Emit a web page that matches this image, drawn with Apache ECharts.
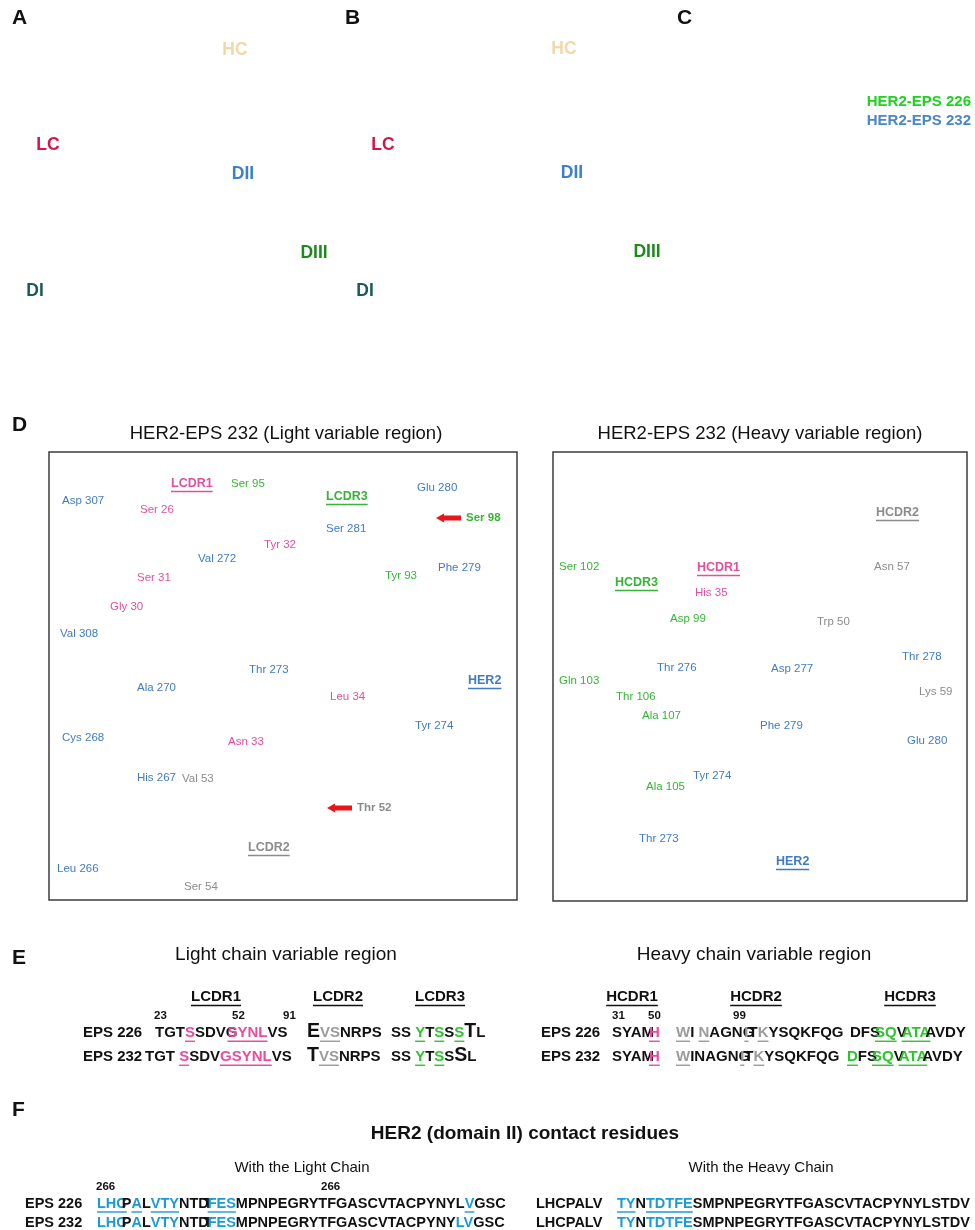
<!DOCTYPE html>
<html>
<head>
<meta charset="utf-8">
<title>HER2-EPS 226 / 232 contact residues</title>
<script src="https://cdn.jsdelivr.net/npm/echarts/dist/echarts.min.js"></script>
<style>
  html, body { margin: 0; padding: 0; background: #fff; }
  #chart { width: 975px; height: 1230px; }
</style>
</head>
<body>
<div id="chart"></div>
<script>
const FONT = '"Liberation Sans", Arial, Helvetica, sans-serif';

// A / B : domain labels on the two complex views
const domainNames = ['HC', 'LC', 'DII', 'DIII', 'DI'];
const domainAX = [235, 48, 243, 314, 35];
const domainAY = [50, 145, 174, 253, 291];
const domainBX = [564, 383, 572, 647, 365];
const domainBY = [49, 145, 173, 252, 291];

// C : superposition legend
const complexNames = ['HER2-EPS 226', 'HER2-EPS 232'];
const complexX = [971, 971];
const complexY = [102, 121];

// D : 2D interaction map, light chain (region: her2 / cdr1 / cdr2 / cdr3)
const lightNames = ['LCDR1', 'Ser 95', 'LCDR3', 'Glu 280', 'Asp 307', 'Ser 26', 'Ser 98', 'Ser 281',
  'Tyr 32', 'Val 272', 'Phe 279', 'Tyr 93', 'Ser 31', 'Gly 30', 'Val 308', 'Thr 273', 'HER2',
  'Ala 270', 'Leu 34', 'Tyr 274', 'Cys 268', 'Asn 33', 'His 267', 'Val 53', 'Thr 52', 'LCDR2',
  'Leu 266', 'Ser 54'];
const lightRegion = ['cdr1', 'cdr3', 'cdr3', 'her2', 'her2', 'cdr1', 'cdr3', 'her2',
  'cdr1', 'her2', 'her2', 'cdr3', 'cdr1', 'cdr1', 'her2', 'her2', 'her2',
  'her2', 'cdr1', 'her2', 'her2', 'cdr1', 'her2', 'cdr2', 'cdr2', 'cdr2',
  'her2', 'cdr2'];
const lightX = [171, 231, 326, 417, 62, 140, 466, 326, 264, 198, 438, 385, 137, 110, 60, 249, 468,
  137, 330, 415, 62, 228, 137, 182, 357, 248, 57, 184];
const lightY = [484, 484, 497, 488, 501, 510, 518, 529, 545, 559, 568, 576, 578, 607, 634, 670, 681,
  688, 697, 726, 738, 742, 778, 779, 808, 848, 869, 887];

// D : heavy chain
const heavyNames = ['HCDR2', 'Ser 102', 'HCDR1', 'Asn 57', 'HCDR3', 'His 35', 'Asp 99', 'Trp 50',
  'Thr 278', 'Thr 276', 'Asp 277', 'Gln 103', 'Lys 59', 'Thr 106', 'Ala 107', 'Phe 279', 'Glu 280',
  'Tyr 274', 'Ala 105', 'Thr 273', 'HER2'];
const heavyRegion = ['cdr2', 'cdr3', 'cdr1', 'cdr2', 'cdr3', 'cdr1', 'cdr3', 'cdr2',
  'her2', 'her2', 'her2', 'cdr3', 'cdr2', 'cdr3', 'cdr3', 'her2', 'her2',
  'her2', 'cdr3', 'her2', 'her2'];
const heavyX = [876, 559, 697, 874, 615, 695, 670, 817, 902, 657, 771, 559, 919, 616, 642, 760, 907,
  693, 646, 639, 776];
const heavyY = [513, 567, 568, 567, 583, 593, 619, 622, 657, 668, 669, 681, 692, 697, 716, 726, 741,
  776, 787, 839, 862];

const arrowed = ['Ser 98', 'Thr 52'];

// E : CDR alignment
const cdrNames = ['LCDR1', 'LCDR2', 'LCDR3', 'HCDR1', 'HCDR2', 'HCDR3'];
const cdrX = [216, 338, 440, 632, 756, 910];
const cdrY = [997, 997, 997, 997, 997, 997];

const posNums = ['23', '52', '91', '31', '50', '99', '266', '266'];
const posX = [154, 232, 283, 612, 648, 733, 96, 321];
const posY = [1016, 1016, 1016, 1016, 1016, 1016, 1187, 1187];

// [p:..] pink, [g:..] grey, [n:..] green, [b:..] blue = contact residue; {..} enlarged; ~ overlap
const cdrSeq = [
  'EPS 226', 'TGT[p:S]SDVG~~[p:SYNL]VS', '{E}[g:VS]NRPS', 'SS [n:Y]T[n:S]S[n:S]{T}L',
  'EPS 232', 'TGT [p:S]SDV[p:GSYNL]VS', '{T}[g:VS]NRPS', 'SS [n:Y]T[n:S]S{S}L',
  'EPS 226', 'SYAM~[p:H]', '[g:W]I [g:N]AGNG~~[g:I]T[g:K]YSQKFQG', 'DFS~[n:SQ]V~[n:ATA]~AVDY',
  'EPS 232', 'SYAM~[p:H]', '[g:W]INAGNG~~[g:I]T[g:K]YSQKFQG', '[n:D]FS~[n:SQ]V~[n:ATA]~AVDY'
];
const cdrSeqX = [83, 155, 307, 391, 83, 145, 307, 391, 541, 612, 676, 850, 541, 612, 676, 847];
const cdrSeqY = [1033, 1033, 1033, 1033, 1057, 1057, 1057, 1057, 1033, 1033, 1033, 1033, 1057, 1057, 1057, 1057];

// F : HER2 domain II contact residues
const her2Seq = [
  'EPS 226', '[b:LHC]~P[b:A]L[b:VTY]NTD~T~[b:FES]MPNPEGRYTFGASCVTACPYNYL[b:V]GSC',
  'LHCPALV', '[b:TY]N[b:TDTFE]SMPNPEGRYTFGASCVTACPYNYLSTDV',
  'EPS 232', '[b:LHC]~P[b:A]L[b:VTY]NTD~T~[b:FES]MPNPEGRYTFGASCVTACPYNY[b:LV]GSC',
  'LHCPALV', '[b:TY]N[b:TDTFE]SMPNPEGRYTFGASCVTACPYNYLSTDV'
];
const her2SeqX = [25, 97, 536, 617, 25, 97, 536, 617];
const her2SeqY = [1204, 1204, 1204, 1204, 1223, 1223, 1223, 1223];

const domainColor = { HC: '#efd9aa', LC: '#d6134b', DII: '#3b80cf', DIII: '#1d8a1d', DI: '#1a5b56' };
const complexColor = ['#1ed21e', '#4a86c8'];
const regionColor = { her2: '#3f7cc4', cdr1: '#e0509b', cdr2: '#8c8c8c', cdr3: '#35b535' };
const seqColor = { p: '#ea4ca0', g: '#9b9b9b', n: '#2ec42e', b: '#1b9ad8' };
const INK = '#111';

const ctx2d = document.createElement('canvas').getContext('2d');
function widthOf(text, font) {
  ctx2d.font = font;
  return ctx2d.measureText(text).width;
}
function fontOf(size, bold) {
  return (bold ? 'bold ' : '') + size + 'px ' + FONT;
}
function textEl(x, y, text, font, fill, align) {
  return {
    type: 'text', x: x, y: y,
    style: { text: text, font: font, fill: fill, textAlign: align || 'left', textVerticalAlign: 'middle' }
  };
}
function underline(x1, x2, y, color) {
  return { type: 'line', shape: { x1: x1, y1: y, x2: x2, y2: y }, style: { stroke: color, lineWidth: 1.4 } };
}
function points(xs, ys) {
  return xs.map(function (x, i) { return [x, ys[i]]; });
}

function parseSeq(s) {
  const out = [];
  const re = /\[(\w):([^\]]+)\]|\{([^}]+)\}|(~)|([^\[{~]+)/g;
  let m;
  while ((m = re.exec(s))) {
    if (m[1]) out.push({ text: m[2], code: m[1] });
    else if (m[3]) out.push({ text: m[3], big: true });
    else if (m[4]) out.push({ back: 5 });
    else out.push({ text: m[5] });
  }
  return out;
}

function simpleText(names, colorOf, size, bold, align) {
  return function (params, api) {
    const i = params.dataIndex;
    const pt = api.coord([api.value(0), api.value(1)]);
    return textEl(pt[0], pt[1], names[i], fontOf(size, bold), colorOf(names[i], i), align);
  };
}

function residueRenderer(names, region) {
  return function (params, api) {
    const i = params.dataIndex;
    const pt = api.coord([api.value(0), api.value(1)]);
    const name = names[i];
    const color = regionColor[region[i]];
    const isHead = /CDR|HER2/.test(name);
    const hasArrow = arrowed.indexOf(name) >= 0;
    const font = isHead ? fontOf(12.5, true) : fontOf(11.5, hasArrow);
    const kids = [textEl(pt[0], pt[1], name, font, color, 'left')];
    if (isHead) {
      kids.push(underline(pt[0], pt[0] + widthOf(name, font), pt[1] + 7.5, color));
    }
    if (hasArrow) {
      const r = pt[0] - 5, l = r - 25, y = pt[1];
      kids.push({
        type: 'polygon',
        shape: { points: [[l, y], [l + 8, y - 4.5], [l + 8, y - 2.5], [r, y - 2.5], [r, y + 2.5], [l + 8, y + 2.5], [l + 8, y + 4.5]] },
        style: { fill: '#e8161b' }
      });
    }
    return { type: 'group', children: kids };
  };
}

function seqRenderer(rows, size) {
  return function (params, api) {
    const pt = api.coord([api.value(0), api.value(1)]);
    let x = pt[0];
    const y = pt[1];
    const kids = [];
    parseSeq(rows[params.dataIndex]).forEach(function (seg) {
      if (seg.back) { x -= seg.back; return; }
      const font = fontOf(seg.big ? size * 1.3 : size, true);
      const color = seg.code ? seqColor[seg.code] : INK;
      const w = widthOf(seg.text, font);
      kids.push(textEl(x, seg.big ? y - 1 : y, seg.text, font, color, 'left'));
      if (seg.code) kids.push(underline(x, x + w, y + size * 0.55, color));
      x += w;
    });
    return { type: 'group', children: kids };
  };
}

function cdrHeadRenderer(params, api) {
  const i = params.dataIndex;
  const pt = api.coord([api.value(0), api.value(1)]);
  const font = fontOf(15, true);
  const w = widthOf(cdrNames[i], font);
  return {
    type: 'group',
    children: [
      textEl(pt[0], pt[1], cdrNames[i], font, INK, 'center'),
      underline(pt[0] - w / 2, pt[0] + w / 2, pt[1] + 8.5, INK)
    ]
  };
}

function heading(text, left, top, size, bold, align) {
  return {
    text: text, left: left, top: top, padding: 0, textAlign: align || 'left',
    textStyle: { fontFamily: FONT, fontSize: size, fontWeight: bold ? 'bold' : 'normal', color: '#111' }
  };
}

function customSeries(data, renderItem) {
  return {
    type: 'custom', coordinateSystem: 'cartesian2d', xAxisIndex: 0, yAxisIndex: 0,
    silent: true, data: data, renderItem: renderItem
  };
}

const chart = echarts.init(document.getElementById('chart'));
chart.setOption({
  animation: false,
  backgroundColor: '#fff',
  title: [
    heading('A', 12, 7.5, 21, true),
    heading('B', 345, 7.5, 21, true),
    heading('C', 677, 7.5, 21, true),
    heading('D', 12, 414.5, 21, true),
    heading('E', 12, 947.5, 21, true),
    heading('F', 12, 1099.5, 21, true),
    heading('HER2-EPS 232 (Light variable region)', 286, 424, 18.5, false, 'center'),
    heading('HER2-EPS 232 (Heavy variable region)', 760, 424, 18.5, false, 'center'),
    heading('Light chain variable region', 286, 945.5, 19, false, 'center'),
    heading('Heavy chain variable region', 754, 945.5, 19, false, 'center'),
    heading('HER2 (domain II) contact residues', 525, 1124, 19, true, 'center'),
    heading('With the Light Chain', 302, 1160.5, 15, false, 'center'),
    heading('With the Heavy Chain', 761, 1160.5, 15, false, 'center')
  ],
  grid: [
    { left: 0, top: 0, width: 975, height: 1230, show: false },
    { left: 49, top: 452, width: 468, height: 448, show: true, borderColor: '#3c3c3c', borderWidth: 1.5, backgroundColor: 'transparent' },
    { left: 553, top: 452, width: 414, height: 449, show: true, borderColor: '#3c3c3c', borderWidth: 1.5, backgroundColor: 'transparent' }
  ],
  xAxis: [
    { gridIndex: 0, type: 'value', min: 0, max: 975, show: false },
    { gridIndex: 1, type: 'value', min: 0, max: 100, show: false },
    { gridIndex: 2, type: 'value', min: 0, max: 100, show: false }
  ],
  yAxis: [
    { gridIndex: 0, type: 'value', min: 0, max: 1230, inverse: true, show: false },
    { gridIndex: 1, type: 'value', min: 0, max: 100, show: false },
    { gridIndex: 2, type: 'value', min: 0, max: 100, show: false }
  ],
  series: [
    customSeries(points(domainAX, domainAY), simpleText(domainNames, function (n) { return domainColor[n]; }, 17.5, true, 'center')),
    customSeries(points(domainBX, domainBY), simpleText(domainNames, function (n) { return domainColor[n]; }, 17.5, true, 'center')),
    customSeries(points(complexX, complexY), simpleText(complexNames, function (n, i) { return complexColor[i]; }, 15, true, 'right')),
    customSeries(points(lightX, lightY), residueRenderer(lightNames, lightRegion)),
    customSeries(points(heavyX, heavyY), residueRenderer(heavyNames, heavyRegion)),
    customSeries(points(cdrX, cdrY), cdrHeadRenderer),
    customSeries(points(posX, posY), simpleText(posNums, function () { return INK; }, 11.5, true, 'left')),
    customSeries(points(cdrSeqX, cdrSeqY), seqRenderer(cdrSeq, 15)),
    customSeries(points(her2SeqX, her2SeqY), seqRenderer(her2Seq, 14.5))
  ]
});
</script>
</body>
</html>
